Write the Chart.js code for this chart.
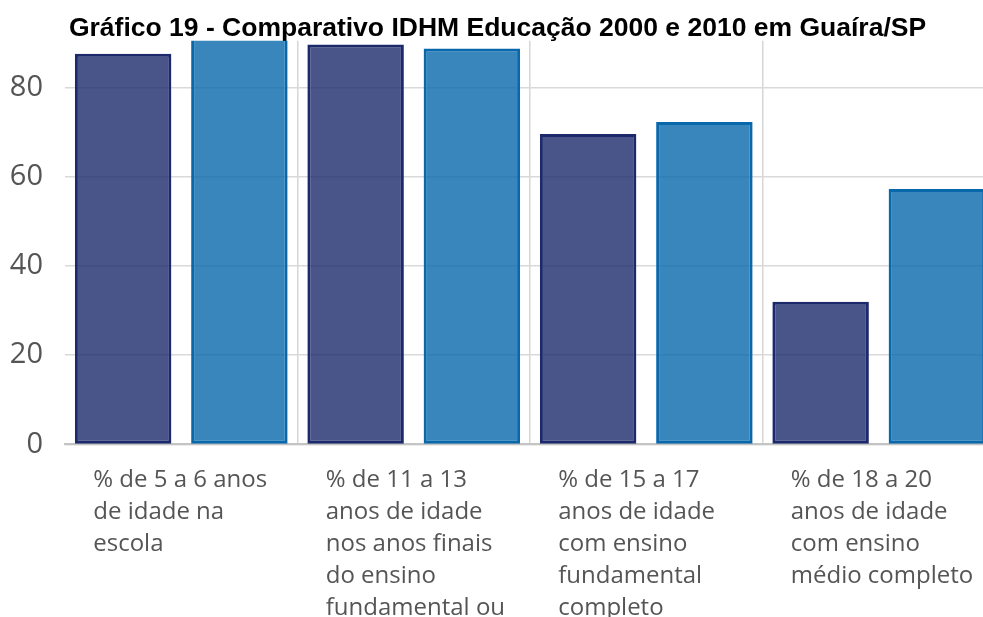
<!DOCTYPE html>
<html lang="pt-BR">
<head>
<meta charset="utf-8">
<title>Gráfico 19 - Comparativo IDHM Educação</title>
<script src="https://cdn.jsdelivr.net/npm/chart.js@4"></script>
<style>
    html, body {
        margin: 0;
        padding: 0;
        background: #fff;
        overflow: hidden;
    }
    .chart-box {
        width: 995px;
        height: 644px;
    }
</style>
</head>
<body>
<div class="chart-box">
    <canvas id="idhmChart" width="995" height="644"></canvas>
</div>
<script>
const categories = [
    ["% de 5 a 6 anos", "de idade na", "escola"],
    ["% de 11 a 13", "anos de idade", "nos anos finais", "do ensino", "fundamental ou"],
    ["% de 15 a 17", "anos de idade", "com ensino", "fundamental", "completo"],
    ["% de 18 a 20", "anos de idade", "com ensino", "médio completo"],
];
const seriesNames = ["2000", "2010"];
const values2000 = [87.6, 89.7, 69.6, 32.0];
const values2010 = [94.0, 88.8, 72.3, 57.3];
const yTicks = [0, 20, 40, 60, 80];

const tickFont = "'Open Sans', 'Noto Sans', sans-serif";

let ctx = document.getElementById("idhmChart").getContext("2d");

window.idhmChart = new Chart(ctx, {
    type: "bar",
    data: {
        labels: categories,
        datasets: [
            {
                label: seriesNames[0],
                data: values2000,
                backgroundColor: "rgba(28, 42, 107, 0.8)",
                borderColor: "#1c2a6b",
                borderWidth: 3,
                borderSkipped: false,
            },
            {
                label: seriesNames[1],
                data: values2010,
                backgroundColor: "rgba(8, 104, 171, 0.8)",
                borderColor: "#0868ab",
                borderWidth: 3,
                borderSkipped: false,
            },
        ],
    },
    options: {
        responsive: false,
        animation: false,
        clip: 0,
        categoryPercentage: 1.0,
        barPercentage: 0.83,
        layout: {
            padding: 0,
        },
        scales: {
            x: {
                grid: {
                    offset: true,
                    drawTicks: false,
                    lineWidth: 1.5,
                    // no line on the far left edge
                    color: (c) => (c.index === 0 ? "rgba(0,0,0,0)" : "#d6d6d6"),
                },
                border: {
                    display: true,
                    color: "#c4c4c4",
                    width: 2,
                },
                ticks: {
                    maxRotation: 0,
                    autoSkip: false,
                    align: "start",
                    labelOffset: -88,
                    padding: 20,
                    color: "#555",
                    font: {
                        family: tickFont,
                        size: 24,
                        lineHeight: 1.33,
                    },
                },
                afterFit: (scale) => {
                    // left-aligned labels must not shrink the plot area
                    scale.paddingRight = 0;
                    scale.paddingLeft = 0;
                },
            },
            y: {
                min: 0,
                max: 90.5,
                grid: {
                    drawTicks: false,
                    lineWidth: 1.5,
                    color: "#d9d9d9",
                },
                border: {
                    display: false,
                },
                ticks: {
                    stepSize: 20,
                    padding: 22,
                    color: "#555",
                    font: {
                        family: tickFont,
                        size: 29,
                    },
                },
                afterBuildTicks: (scale) => {
                    scale.ticks = yTicks.map((v) => ({ value: v }));
                },
                afterFit: (scale) => {
                    scale.width = 65;
                },
            },
        },
        plugins: {
            legend: {
                display: false,
            },
            tooltip: {
                enabled: false,
            },
            title: {
                display: true,
                text: "Gráfico 19 - Comparativo IDHM Educação 2000 e 2010 em Guaíra/SP",
                color: "#000",
                padding: { top: 17, bottom: 0 },
                font: {
                    family: "'Liberation Sans', Arial, sans-serif",
                    size: 26.5,
                    weight: "bold",
                    lineHeight: 0.9,
                },
            },
        },
    },
});
</script>
</body>
</html>
